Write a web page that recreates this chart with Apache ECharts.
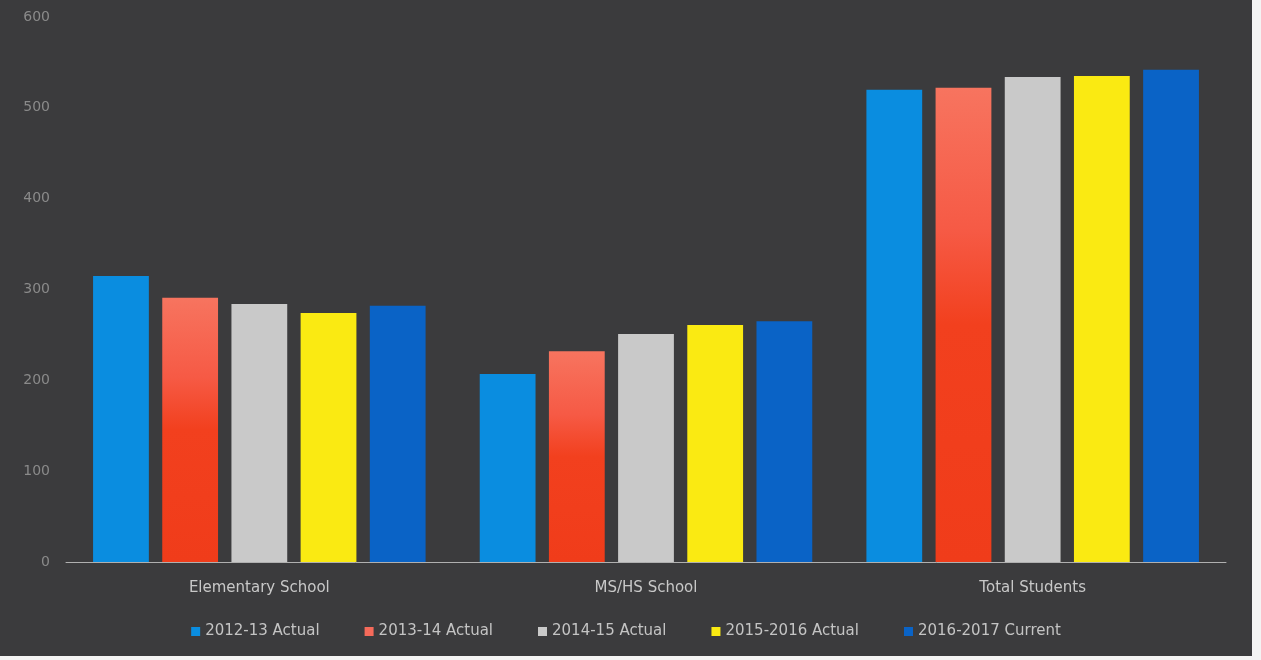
<!DOCTYPE html>
<html><head><meta charset="utf-8">
<script src="https://cdn.jsdelivr.net/npm/echarts@6/dist/echarts.min.js"></script>
<style>html,body{margin:0;padding:0;background:#f4f4f4;}#c{width:1252px;height:656px;}</style>
</head><body><div id="c"></div>
<script>
const categories = ['Elementary School', 'MS/HS School', 'Total Students'];
const seriesNames = ['2012-13 Actual', '2013-14 Actual', '2014-15 Actual', '2015-2016 Actual', '2016-2017 Current'];
const s2012 = [315, 207, 520];
const s2013 = [291, 232, 522];
const s2014 = [284, 251, 534];
const s2015 = [274, 261, 535];
const s2016 = [282, 265, 542];
const yTicks = [0, 100, 200, 300, 400, 500, 600];

const values = [s2012, s2013, s2014, s2015, s2016];
const colors = [
  '#0a8de0',
  new echarts.graphic.LinearGradient(0, 0, 0, 1, [
    {offset: 0, color: '#f7745f'}, {offset: 0.3, color: '#f65a45'}, {offset: 0.5, color: '#f2401e'}, {offset: 1, color: '#f03c1a'}]),
  '#c9c9c9',
  '#faea12',
  '#0a63c6'
];
const legendColors = ['#0a8de0', '#f56a5a', '#c9c9c9', '#faea12', '#0a63c6'];

const chart = echarts.init(document.getElementById('c'));
chart.setOption({
  backgroundColor: '#3b3b3d',
  animation: false,
  textStyle: {fontFamily: 'DejaVu Sans, sans-serif'},
  grid: {left: 66, right: 26, top: 17, bottom: 94},
  legend: {
    bottom: 12,
    left: 'center',
    itemWidth: 9, itemHeight: 9, itemGap: 45,
    icon: 'rect',
    textStyle: {color: '#c4c4c4', fontSize: 15},
    data: seriesNames.map((n, i) => ({name: n, itemStyle: {color: legendColors[i]}}))
  },
  xAxis: {
    type: 'category', data: categories,
    axisLine: {lineStyle: {color: '#b0b0b0', width: 1}},
    axisTick: {show: false},
    axisLabel: {color: '#c8c8c8', fontSize: 15, margin: 19}
  },
  yAxis: {
    type: 'value', min: yTicks[0], max: yTicks[yTicks.length - 1], interval: 100,
    axisLine: {show: false}, axisTick: {show: false},
    splitLine: {show: false},
    axisLabel: {color: '#8a8a8a', fontSize: 14, margin: 16}
  },
  series: seriesNames.map((n, i) => ({
    name: n, type: 'bar', data: values[i],
    barGap: '24%', barCategoryGap: '14%',
    itemStyle: {color: colors[i]}
  }))
});
</script></body></html>
